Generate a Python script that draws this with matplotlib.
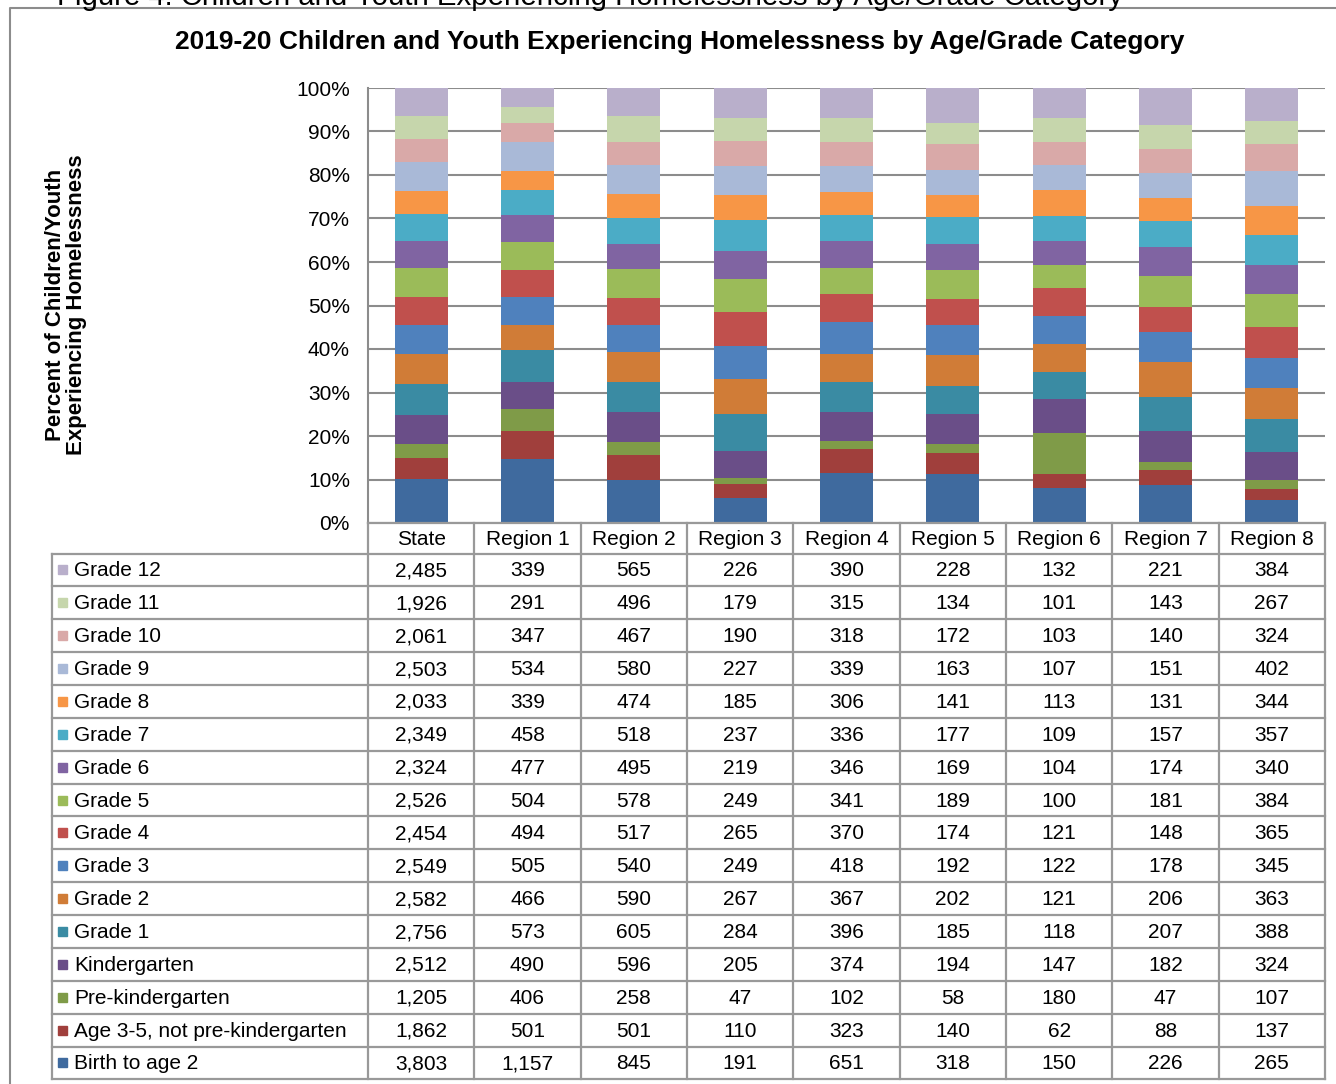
import numpy as np
import matplotlib
matplotlib.use('Agg')
import matplotlib.pyplot as plt
from matplotlib.patches import Rectangle

plt.rcParams['font.family'] = ['Liberation Sans', 'DejaVu Sans']

# Chart data (counts per category, bottom to top of the stack)
columns = ['State', 'Region 1', 'Region 2', 'Region 3', 'Region 4',
           'Region 5', 'Region 6', 'Region 7', 'Region 8']

categories = ['Birth to age 2', 'Age 3-5, not pre-kindergarten', 'Pre-kindergarten',
              'Kindergarten', 'Grade 1', 'Grade 2', 'Grade 3', 'Grade 4', 'Grade 5',
              'Grade 6', 'Grade 7', 'Grade 8', 'Grade 9', 'Grade 10', 'Grade 11', 'Grade 12']

birth_to_2 = [3803, 1157, 845, 191, 651, 318, 150, 226, 265]
age_3_5 = [1862, 501, 501, 110, 323, 140, 62, 88, 137]
pre_k = [1205, 406, 258, 47, 102, 58, 180, 47, 107]
kindergarten = [2512, 490, 596, 205, 374, 194, 147, 182, 324]
grade_1 = [2756, 573, 605, 284, 396, 185, 118, 207, 388]
grade_2 = [2582, 466, 590, 267, 367, 202, 121, 206, 363]
grade_3 = [2549, 505, 540, 249, 418, 192, 122, 178, 345]
grade_4 = [2454, 494, 517, 265, 370, 174, 121, 148, 365]
grade_5 = [2526, 504, 578, 249, 341, 189, 100, 181, 384]
grade_6 = [2324, 477, 495, 219, 346, 169, 104, 174, 340]
grade_7 = [2349, 458, 518, 237, 336, 177, 109, 157, 357]
grade_8 = [2033, 339, 474, 185, 306, 141, 113, 131, 344]
grade_9 = [2503, 534, 580, 227, 339, 163, 107, 151, 402]
grade_10 = [2061, 347, 467, 190, 318, 172, 103, 140, 324]
grade_11 = [1926, 291, 496, 179, 315, 134, 101, 143, 267]
grade_12 = [2485, 339, 565, 226, 390, 228, 132, 221, 384]

series = [birth_to_2, age_3_5, pre_k, kindergarten, grade_1, grade_2, grade_3, grade_4,
          grade_5, grade_6, grade_7, grade_8, grade_9, grade_10, grade_11, grade_12]

colors = ['#3F6A9E', '#A03F3C', '#7F9B48', '#6A4E88', '#3A8BA3', '#D07C37',
          '#4F81BD', '#C0504D', '#9BBB59', '#8064A2', '#4BACC6', '#F79646',
          '#A9B9D7', '#D9A9A8', '#C6D6AC', '#B9AFCB']

W, H = 1336, 1084
fig = plt.figure(figsize=(W / 100, H / 100), dpi=100)
fig.patch.set_facecolor('white')

# Pixel helpers
def fx(px):
    return px / W

def fy(py):
    return 1 - py / H

plot_left, plot_right = 368, 1325
plot_top, plot_bottom = 88, 523

# Bar axes
ax = fig.add_axes([fx(plot_left), fy(plot_bottom), fx(plot_right - plot_left),
                   (plot_bottom - plot_top) / H])
data = np.array(series, dtype=float)
pct = data / data.sum(axis=0) * 100
x = np.arange(len(columns))
bottom = np.zeros(len(columns))
for vals, col in zip(pct, colors):
    ax.bar(x, vals, bottom=bottom, width=0.5, color=col, zorder=3)
    bottom += vals

ax.set_xlim(-0.5, len(columns) - 0.5)
ax.set_ylim(0, 100)
ax.set_yticks(np.arange(0, 101, 10))
ax.set_yticklabels([f'{v}%' for v in range(0, 101, 10)], fontsize=15)
ax.tick_params(axis='y', length=0, pad=13)
ax.set_xticks([])
ax.yaxis.grid(True, color='#8c8c8c', linewidth=1.5, zorder=0)
for s in ['top', 'right', 'bottom']:
    ax.spines[s].set_visible(False)
ax.spines['left'].set_color('#8c8c8c')
ax.spines['left'].set_linewidth(1.5)

# Overlay axes in pixel coordinates for the table, title and border
ov = fig.add_axes([0, 0, 1, 1])
ov.set_xlim(0, W)
ov.set_ylim(H, 0)
ov.axis('off')

# Caption (cut off at the top of the image, as in the source)
ov.text(57, 5, 'Figure 4. Children and Youth Experiencing Homelessness by Age/Grade Category',
        fontsize=21.2, va='baseline', ha='left', color='black', clip_on=False)

# Outer border
ov.plot([10, 10, W + 5], [H + 5, 8, 8], color='#8c8c8c', linewidth=1.5)

# Title
ov.text(680, 42, '2019-20 Children and Youth Experiencing Homelessness by Age/Grade Category',
        fontsize=19, fontweight='bold', ha='center', va='center')

# Y-axis label
ov.text(66, 305, 'Percent of Children/Youth\nExperiencing Homelessness', fontsize=16,
        fontweight='bold', rotation=90, ha='center', va='center', linespacing=1.0)

# Table geometry
col_w = (plot_right - plot_left) / len(columns)
col_edges = [plot_left + i * col_w for i in range(len(columns) + 1)]
label_left = 52
header_top, header_bottom = plot_bottom, 553.5
row_h = 32.87
n_rows = len(categories)
table_bottom = header_bottom + n_rows * row_h
lc = '#999999'
lw = 1.6

# Header row
ov.plot([plot_left, plot_right], [header_top, header_top], color=lc, lw=lw)
for xe in col_edges:
    ov.plot([xe, xe], [header_top, table_bottom], color=lc, lw=lw)
for i, name in enumerate(columns):
    ov.text(col_edges[i] + col_w / 2, (header_top + header_bottom) / 2 + 1, name,
            fontsize=15, ha='center', va='center')

# Data rows (Grade 12 at top)
ov.plot([label_left, label_left], [header_bottom, table_bottom], color=lc, lw=lw)
for r in range(n_rows + 1):
    yy = header_bottom + r * row_h
    ov.plot([label_left, plot_right], [yy, yy], color=lc, lw=lw)

for r in range(n_rows):
    idx = n_rows - 1 - r
    yc = header_bottom + (r + 0.5) * row_h
    ov.add_patch(Rectangle((58, yc - 4.5), 9, 9, color=colors[idx]))
    ov.text(74, yc + 1, categories[idx], fontsize=15, ha='left', va='center')
    for c in range(len(columns)):
        ov.text(col_edges[c] + col_w / 2, yc + 1, f'{series[idx][c]:,}',
                fontsize=15, ha='center', va='center')

fig.savefig('out.png', dpi=100)
